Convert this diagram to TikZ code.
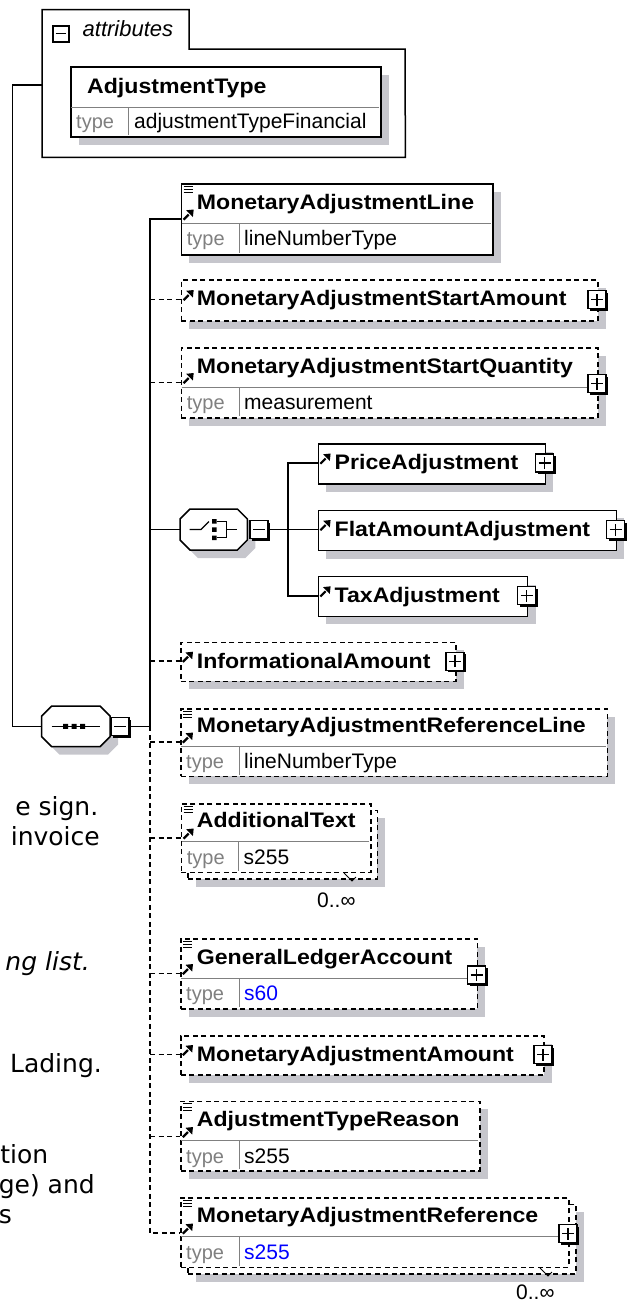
\documentclass[tikz,border=0pt]{standalone}
\usepackage{fontspec}
\setmainfont{Liberation Sans}
\newfontfamily\elfont{Liberation Sans}[FakeStretch=1.1]
\newfontfamily\docfont{DejaVu Sans}
\usetikzlibrary{shadows}
\definecolor{shadowc}{RGB}{198,198,204}
\definecolor{typegray}{RGB}{128,128,128}
\definecolor{typeblue}{RGB}{0,0,255}
\definecolor{divgray}{RGB}{128,128,128}
\tikzset{
  conn/.style={line width=1.5pt},
  optconn/.style={line width=1.5pt, dash pattern=on 5pt off 3.5pt},
  box/.style={draw, line width=1.5pt, fill=white, inner sep=0pt, rectangle, anchor=north west},
  optbox/.style={box, dash pattern=on 5pt off 3.5pt},
  shd/.style={general shadow={fill=shadowc, shadow xshift=8pt, shadow yshift=-8pt}},
  elname/.style={font={\elfont\bfseries\fontsize{21}{24}\selectfont}, inner sep=0pt, anchor=base west},
  attrlbl/.style={font={\itshape\fontsize{22}{24}\selectfont}, inner sep=0pt, anchor=base west},
  typelbl/.style={font={\fontsize{20}{24}\selectfont}, text=typegray, inner sep=0pt, anchor=base west},
  typeval/.style={font={\fontsize{21}{24}\selectfont}, inner sep=0pt, anchor=base west},
  occ/.style={font={\fontsize{21}{24}\selectfont}, inner sep=0pt, anchor=base west},
  lefttxt/.style={font={\docfont\fontsize{25}{30}\selectfont}, inner sep=0pt, anchor=base east},
  divline/.style={line width=1pt, draw=divgray},
  hidden/.style={inner sep=0pt, rectangle},
  btn/.style={draw, fill=white, line width=1.3pt, minimum size=18pt, inner sep=0pt, rectangle,
    general shadow={fill=black, shadow xshift=2.2pt, shadow yshift=-2.2pt}},
  plusbtn/.style={btn, path picture={\draw[line width=1.3pt]
    ([xshift=-6pt]path picture bounding box.center) -- ([xshift=6pt]path picture bounding box.center)
    ([yshift=-6pt]path picture bounding box.center) -- ([yshift=6pt]path picture bounding box.center);}},
  minusbtn/.style={btn, path picture={\draw[line width=1.3pt]
    ([xshift=-6pt]path picture bounding box.center) -- ([xshift=6pt]path picture bounding box.center);}},
  attrminus/.style={draw, fill=white, line width=2pt, minimum size=16pt, inner sep=0pt, rectangle,
    path picture={\draw[line width=1.4pt]
    ([xshift=-5pt]path picture bounding box.center) -- ([xshift=5pt]path picture bounding box.center);}},
  refarrow/.pic={\draw[line width=2.2pt] (0.8,-0.8) -- (6,-6); \fill (11,-11) -- (3.5,-10.2) -- (10.2,-3.5) -- cycle;},
  docicon/.pic={\draw[line width=0.8pt] (0,0) -- (9,0) (0,3.2) -- (9,3.2) (0,6.4) -- (9,6.4);},
  occtick/.pic={\draw[line width=1pt] (0,0) -- (8,8) -- (12,4);}
}
\begin{document}
\begin{tikzpicture}[x=1pt,y=-1pt]
\useasboundingbox (0,0) rectangle (629,1301);

% ---------- attributes container ----------
\node[hidden, minimum width=363pt, minimum height=147.5pt, anchor=north west] (attr) at (42,9.5) {};
\draw[line width=1.5pt] (attr.north west) -- (189,9.5) -- (189,49) -- (405,49) -- (attr.south east) -- (attr.south west) -- cycle;
\node[attrminus] (attrmin) at (60.5,33.5) {};
\node[attrlbl] (attrtxt) at (82.5,36) {attributes};

\node[box, shd, minimum width=310pt, minimum height=70pt] (AT) at (70,66) {};
\draw[divline] (70.8,107) -- (379.2,107); \draw[divline] (128,107) -- (128,135.2);
\node[elname] (ATn) at (87,93) {AdjustmentType};
\node[typelbl] (ATtl) at (76,128) {type};
\node[typeval] (ATtv) at (134,128) {adjustmentTypeFinancial};

% ---------- sequence compositor ----------
\node[hidden, minimum width=68.3pt, minimum height=40.7pt] (seq) at (75.85,726.3) {};
\draw[line width=1.5pt, fill=white, shd] (51.7,706) -- (100,706) -- (110,716) -- (110,736.7) -- (100,746.7) -- (51.7,746.7) -- (41.7,736.7) -- (41.7,716) -- cycle;
\draw[line width=1.3pt] (51.7,726.3) -- (100,726.3);
\fill (63,723.8) rectangle (68,728.8) (71.5,723.8) rectangle (76.5,728.8) (80,723.8) rectangle (85,728.8);
\node[minusbtn] (seqmin) at (120,726.3) {};
\coordinate (lvtop) at (12.7,85);
\coordinate (seqj) at (150,726.3);
\draw[conn] (seq.west) -| (lvtop) -- (attr.west |- lvtop);
\draw[conn] (seqmin.east) -- (seqj);

% ---------- elements ----------
% MonetaryAdjustmentLine
\node[box, shd, minimum width=311.3pt, minimum height=70.7pt] (MAL) at (180.7,183.3) {};
\draw[divline] (181.5,223.3) -- (491.2,223.3); \draw[divline] (239,223.3) -- (239,253.2);
\pic at (183.7,186.3) {docicon};
\pic at (182.7,220.5) {refarrow};
\node[elname] (MALn) at (196.7,209.3) {MonetaryAdjustmentLine};
\node[typelbl] (MALtl) at (186.7,245.5) {type};
\node[typeval] (MALtv) at (244,245.5) {lineNumberType};
\coordinate (MAL-in) at (180.7,219);

% MonetaryAdjustmentStartAmount
\node[optbox, shd, minimum width=416.3pt, minimum height=41pt] (MSA) at (180.7,279) {};
\pic at (182.7,301) {refarrow};
\node[elname] (MSAn) at (196.7,305.5) {MonetaryAdjustmentStartAmount};
\node[plusbtn] (MSAb) at (597,299.5) {};
\coordinate (MSA-in) at (180.7,299.5);

% MonetaryAdjustmentStartQuantity
\node[optbox, shd, minimum width=416.3pt, minimum height=70pt] (MSQ) at (180.7,347) {};
\draw[divline] (181.5,387) -- (596.2,387); \draw[divline] (239,387) -- (239,416.2);
\pic at (182.7,384) {refarrow};
\node[elname] (MSQn) at (196.7,373) {MonetaryAdjustmentStartQuantity};
\node[typelbl] (MSQtl) at (186.7,409) {type};
\node[typeval] (MSQtv) at (244,409) {measurement};
\node[plusbtn] (MSQb) at (597,383.5) {};
\coordinate (MSQ-in) at (180.7,382.5);

% choice compositor
\node[hidden, minimum width=67.4pt, minimum height=41pt] (choice) at (213.7,529.5) {};
\draw[line width=1.5pt, fill=white, shd] (190,509) -- (237.4,509) -- (247.4,519) -- (247.4,540) -- (237.4,550) -- (190,550) -- (180,540) -- (180,519) -- cycle;
\draw[line width=1.3pt] (189.5,529.5) -- (201,529.5) -- (209,521.5);
\fill (212,519) rectangle (216.5,523.5) (212,527.3) rectangle (216.5,531.8) (212,535.6) rectangle (216.5,540.1);
\draw[line width=1.3pt] (216.5,521.3) -| (226.5,537.8) -- (216.5,537.8) (226.5,529.5) -- (236.5,529.5);
\node[minusbtn] (chmin) at (259,529.5) {};
\coordinate (chj) at (288,529.5);

\node[box, shd, minimum width=227.1pt, minimum height=40pt] (PA) at (317.6,443) {};
\pic at (319.6,464.5) {refarrow};
\node[elname] (PAn) at (334.5,469.5) {PriceAdjustment};
\node[plusbtn] (PAb) at (544.7,463) {};
\coordinate (PA-in) at (317.6,463);

\node[box, shd, minimum width=297.9pt, minimum height=40.4pt] (FAA) at (317.6,509.5) {};
\pic at (319.6,531) {refarrow};
\node[elname] (FAAn) at (334.5,536) {FlatAmountAdjustment};
\node[plusbtn] (FAAb) at (615.5,529.5) {};
\coordinate (FAA-in) at (317.6,529.5);

\node[box, shd, minimum width=209.2pt, minimum height=39.8pt] (TA) at (317.6,575.9) {};
\pic at (319.6,597.3) {refarrow};
\node[elname] (TAn) at (334.5,602.4) {TaxAdjustment};
\node[plusbtn] (TAb) at (526.8,595.8) {};
\coordinate (TA-in) at (317.6,595.8);

\draw[conn] (PA-in) -| (TA-in -| chj) -- (TA-in);
\draw[conn] (chmin.east) -- (FAA-in);

% InformationalAmount
\node[optbox, shd, minimum width=275pt, minimum height=39pt] (IA) at (180,641.7) {};
\pic at (182,662.7) {refarrow};
\node[elname] (IAn) at (196.7,668) {InformationalAmount};
\node[plusbtn] (IAb) at (455,661.2) {};
\coordinate (IA-in) at (180,661.2);

% MonetaryAdjustmentReferenceLine
\node[optbox, shd, minimum width=426.7pt, minimum height=67.7pt] (MARL) at (180,708) {};
\draw[divline] (180.8,746.7) -- (605.9,746.7); \draw[divline] (239,746.7) -- (239,774.9);
\pic at (183,711) {docicon};
\pic at (182,743.5) {refarrow};
\node[elname] (MARLn) at (196.7,732.7) {MonetaryAdjustmentReferenceLine};
\node[typelbl] (MARLtl) at (186,768.5) {type};
\node[typeval] (MARLtv) at (244,768.5) {lineNumberType};
\coordinate (MARL-in) at (180,742);

% AdditionalText (stacked)
\node[optbox, shd, minimum width=189.3pt, minimum height=68.7pt] (AddTb) at (187.2,809.5) {};
\node[optbox, minimum width=189.3pt, minimum height=68.7pt] (AddT) at (180.7,803) {};
\draw[divline] (181.5,841.7) -- (369.2,841.7); \draw[divline] (238.5,841.7) -- (238.5,870.9);
\pic at (183.7,806) {docicon};
\pic at (182.7,839.5) {refarrow};
\node[elname] (AddTn) at (196.7,827.7) {AdditionalText};
\node[typelbl] (AddTtl) at (186.7,864) {type};
\node[typeval] (AddTtv) at (243.5,864) {s255};
\pic at (344,873) {occtick};
\node[occ] (AddTo) at (317,907) {0..∞};
\coordinate (AddT-in) at (180.7,838);

% GeneralLedgerAccount
\node[optbox, shd, minimum width=296.7pt, minimum height=70pt] (GLA) at (180,938) {};
\draw[divline] (180.8,978) -- (475.9,978); \draw[divline] (239,978) -- (239,1007.2);
\pic at (183,941) {docicon};
\pic at (182,975) {refarrow};
\node[elname] (GLAn) at (196.7,964) {GeneralLedgerAccount};
\node[typelbl] (GLAtl) at (186,1000.5) {type};
\node[typeval, text=typeblue] (GLAtv) at (244,1000.5) {s60};
\node[plusbtn] (GLAb) at (476.7,975) {};
\coordinate (GLA-in) at (180,973.5);

% MonetaryAdjustmentAmount
\node[optbox, shd, minimum width=363pt, minimum height=39pt] (MAA) at (180,1035) {};
\pic at (182,1056) {refarrow};
\node[elname] (MAAn) at (196.7,1061.5) {MonetaryAdjustmentAmount};
\node[plusbtn] (MAAb) at (543,1054.5) {};
\coordinate (MAA-in) at (180,1054.5);

% AdjustmentTypeReason
\node[optbox, shd, minimum width=299pt, minimum height=69.3pt] (ATR) at (180,1100.7) {};
\draw[divline] (180.8,1140.7) -- (478.2,1140.7); \draw[divline] (239,1140.7) -- (239,1169.2);
\pic at (183,1103.7) {docicon};
\pic at (182,1138) {refarrow};
\node[elname] (ATRn) at (196.7,1126.7) {AdjustmentTypeReason};
\node[typelbl] (ATRtl) at (186,1163) {type};
\node[typeval] (ATRtv) at (244,1163) {s255};
\coordinate (ATR-in) at (180,1136.5);

% MonetaryAdjustmentReference (stacked)
\node[optbox, shd, minimum width=388pt, minimum height=69.7pt] (MARb) at (187,1203.5) {};
\node[optbox, minimum width=388pt, minimum height=69.7pt] (MAR) at (180,1197) {};
\draw[divline] (180.8,1236.7) -- (567.2,1236.7); \draw[divline] (239,1236.7) -- (239,1265.9);
\pic at (183,1200) {docicon};
\pic at (182,1234.5) {refarrow};
\node[elname] (MARn) at (196.7,1222.7) {MonetaryAdjustmentReference};
\node[typelbl] (MARtl) at (186,1259) {type};
\node[typeval, text=typeblue] (MARtv) at (244,1259) {s255};
\node[plusbtn] (MARbtn) at (568,1233.5) {};
\pic at (540,1268) {occtick};
\node[occ] (MARo) at (516,1299) {0..∞};
\coordinate (MAR-in) at (180,1233);

% ---------- sequence connectors ----------
\draw[conn] (MAL-in) -| (seqj);
\draw[conn] (choice.west) -- (choice.west -| seqj);
\draw[optconn] (seqj) -- (MAR-in -| seqj) -- (MAR-in);
\draw[optconn] (MSA-in -| seqj) -- (MSA-in);
\draw[optconn] (MSQ-in -| seqj) -- (MSQ-in);
\draw[optconn] (IA-in -| seqj) -- (IA-in);
\draw[optconn] (MARL-in -| seqj) -- (MARL-in);
\draw[optconn] (AddT-in -| seqj) -- (AddT-in);
\draw[optconn] (GLA-in -| seqj) -- (GLA-in);
\draw[optconn] (MAA-in -| seqj) -- (MAA-in);
\draw[optconn] (ATR-in -| seqj) -- (ATR-in);

% ---------- left text fragments ----------
\node[lefttxt] (t1) at (98.5,815) {e sign.};
\node[lefttxt] (t2) at (100,845) {invoice};
\node[lefttxt, font={\docfont\itshape\fontsize{25}{30}\selectfont}] (t3) at (90,970) {ng list.};
\node[lefttxt] (t4) at (102,1072) {Lading.};
\node[lefttxt] (t5) at (48.5,1163) {tion};
\node[lefttxt] (t6) at (95,1193) {ge) and};
\node[lefttxt] (t7) at (12,1223) {s};
\end{tikzpicture}
\end{document}
